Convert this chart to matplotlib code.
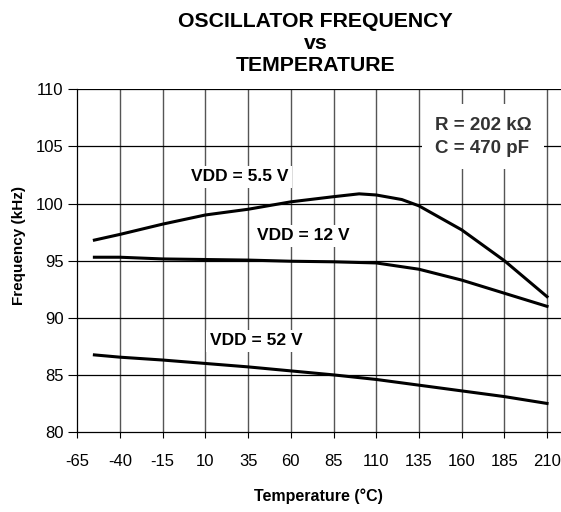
import matplotlib
matplotlib.use("Agg")
import matplotlib.pyplot as plt

plt.rcParams['font.family'] = ['Liberation Sans', 'DejaVu Sans']

# temperature (C) / frequency (kHz) for each supply voltage
t_55 = [-55, -40, -15, 10, 35, 60, 85, 100, 110, 125, 135, 160, 185, 210]
f_55 = [96.8, 97.3, 98.2, 99.0, 99.5, 100.15, 100.6, 100.85, 100.75, 100.35, 99.8, 97.7, 95.0, 91.85]

t_12 = [-55, -40, -15, 10, 35, 60, 85, 110, 135, 160, 185, 210]
f_12 = [95.3, 95.3, 95.15, 95.1, 95.05, 94.95, 94.9, 94.8, 94.25, 93.3, 92.15, 91.0]

t_52 = [-55, -40, -15, 10, 35, 60, 85, 110, 135, 160, 185, 210]
f_52 = [86.75, 86.55, 86.3, 86.0, 85.7, 85.35, 85.0, 84.6, 84.1, 83.6, 83.1, 82.5]

xticks = [-65, -40, -15, 10, 35, 60, 85, 110, 135, 160, 185, 210]
yticks = [80, 85, 90, 95, 100, 105, 110]

fig = plt.figure(figsize=(5.61, 5.12), dpi=100)
ax = fig.add_axes([0.1378, 0.15625, 0.9134, 0.6693])
ax.set_xlim(-65, 235)
ax.set_ylim(80, 110)

for x in xticks[1:]:
    ax.axvline(x, color='#555555', lw=1.0, zorder=1)
for y in yticks[1:]:
    ax.axhline(y, color='black', lw=0.9, zorder=1)

ax.plot(t_55, f_55, color='black', lw=2.2, zorder=3)
ax.plot(t_12, f_12, color='black', lw=2.2, zorder=3)
ax.plot(t_52, f_52, color='black', lw=2.2, zorder=3)

ax.set_xticks(xticks)
ax.set_xticklabels([str(v) for v in xticks], fontsize=12)
ax.set_yticks(yticks)
ax.set_yticklabels([str(v) for v in yticks], fontsize=12)
ax.tick_params(axis='x', length=4, width=0.8, pad=12)
ax.tick_params(axis='y', length=6.5, width=0.8, pad=3.5)
ax.spines['right'].set_visible(False)
ax.spines['top'].set_visible(False)
for s in ['left', 'bottom']:
    ax.spines[s].set_linewidth(0.9)

box = dict(facecolor='white', edgecolor='none', pad=2.5)
ax.text(30.3, 102.36, 'VDD = 5.5 V', fontsize=12.5, fontweight='bold', ha='center', va='center', bbox=box, zorder=4)
ax.text(67.1, 97.17, 'VDD = 12 V', fontsize=12.5, fontweight='bold', ha='center', va='center', bbox=box, zorder=4)
ax.text(39.6, 87.98, 'VDD = 52 V', fontsize=12.5, fontweight='bold', ha='center', va='center', bbox=box, zorder=4)

ax.text(144.4, 105.85, 'R = 202 k\u03a9\nC = 470 pF', fontsize=13.5, fontweight='bold', color='#333333',
        ha='left', va='center', linespacing=1.45,
        bbox=dict(facecolor='white', edgecolor='none', pad=9), zorder=4)

fig.text(0.563, 0.916, 'OSCILLATOR FREQUENCY\nvs\nTEMPERATURE', fontsize=15.3, fontweight='bold',
         ha='center', va='center', linespacing=1.2)
fig.text(0.568, 0.03, 'Temperature (\u00b0C)', fontsize=11.5, fontweight='bold', ha='center', va='center')
fig.text(0.034, 0.52, 'Frequency (kHz)', fontsize=11, fontweight='bold', ha='center', va='center', rotation=90)

fig.savefig('out.png', dpi=100)
